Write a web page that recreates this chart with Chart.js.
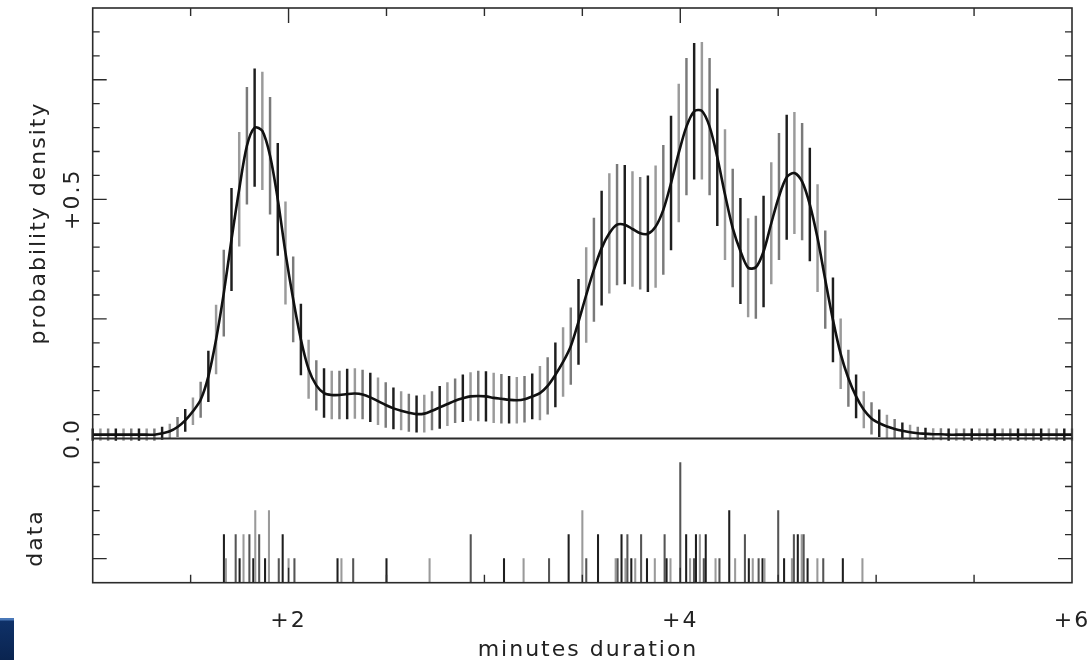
<!DOCTYPE html>
<html>
<head>
<meta charset="utf-8">
<script src="https://cdn.jsdelivr.net/npm/chart.js@4.4.0/dist/chart.umd.min.js"></script>
<style>
html, body { margin: 0; padding: 0; background: #fff; }
#wrap { position: relative; width: 1092px; height: 660px; overflow: hidden; }
canvas { position: absolute; left: 0; top: 0; }
#corner { position: absolute; left: 0; top: 618px; width: 14px; height: 42px;
  background: linear-gradient(#4a78b8 0, #4a78b8 2px, #0f3168 3px, #0a2450 100%); }
</style>
</head>
<body>
<div id="wrap">
  <canvas id="densityChart" width="1092" height="660"></canvas>
  <canvas id="dataChart" width="1092" height="660"></canvas>
  <div id="corner"></div>
</div>
<script>
// density estimate on an even grid from 1 to 6 minutes (128 points)
const xMin = 1, xMax = 6;
const densityValues = [
  0.008, 0.008, 0.008, 0.008, 0.008, 0.008, 0.008, 0.008, 0.008, 0.011,
  0.015, 0.024, 0.038, 0.057, 0.081, 0.130, 0.207, 0.304, 0.416, 0.521,
  0.612, 0.650, 0.643, 0.591, 0.500, 0.388, 0.291, 0.207, 0.145, 0.111,
  0.095, 0.091, 0.091, 0.093, 0.094, 0.092, 0.086, 0.078, 0.070, 0.063,
  0.058, 0.054, 0.051, 0.052, 0.058, 0.065, 0.072, 0.079, 0.084, 0.088,
  0.089, 0.088, 0.085, 0.083, 0.081, 0.080, 0.082, 0.088, 0.095, 0.110,
  0.133, 0.160, 0.193, 0.244, 0.300, 0.353, 0.398, 0.429, 0.447, 0.447,
  0.438, 0.429, 0.428, 0.443, 0.478, 0.534, 0.597, 0.652, 0.684, 0.685,
  0.652, 0.588, 0.510, 0.440, 0.392, 0.357, 0.358, 0.391, 0.450, 0.506,
  0.546, 0.555, 0.537, 0.489, 0.419, 0.332, 0.248, 0.177, 0.126, 0.088,
  0.060, 0.042, 0.032, 0.025, 0.020, 0.016, 0.013, 0.011, 0.010, 0.009,
  0.009, 0.008, 0.008, 0.008, 0.008, 0.008, 0.008, 0.008, 0.008, 0.008,
  0.008, 0.008, 0.008, 0.008, 0.008, 0.008, 0.008, 0.008
];
// half length of each error bar
const errorHalfWidths = [
  0.012, 0.012, 0.012, 0.012, 0.012, 0.012, 0.012, 0.012, 0.012, 0.013,
  0.015, 0.020, 0.023, 0.028, 0.037, 0.053, 0.072, 0.090, 0.107, 0.119,
  0.122, 0.123, 0.123, 0.122, 0.117, 0.107, 0.089, 0.074, 0.061, 0.052,
  0.051, 0.050, 0.050, 0.052, 0.052, 0.051, 0.051, 0.049, 0.047, 0.043,
  0.040, 0.039, 0.038, 0.039, 0.040, 0.044, 0.045, 0.046, 0.049, 0.050,
  0.052, 0.052, 0.052, 0.051, 0.049, 0.048, 0.048, 0.047, 0.056, 0.059,
  0.067, 0.072, 0.080, 0.089, 0.099, 0.108, 0.119, 0.125, 0.126, 0.124,
  0.120, 0.117, 0.121, 0.127, 0.135, 0.140, 0.144, 0.143, 0.142, 0.143,
  0.143, 0.143, 0.136, 0.123, 0.110, 0.103, 0.107, 0.116, 0.127, 0.132,
  0.130, 0.127, 0.122, 0.118, 0.112, 0.102, 0.088, 0.073, 0.059, 0.045,
  0.038, 0.033, 0.028, 0.024, 0.020, 0.017, 0.015, 0.013, 0.012, 0.012,
  0.012, 0.012, 0.012, 0.012, 0.012, 0.012, 0.012, 0.012, 0.012, 0.012,
  0.012, 0.012, 0.012, 0.012, 0.012, 0.012, 0.012, 0.012
];
const gridX = densityValues.map((_, i) => xMin + i * (xMax - xMin) / (densityValues.length - 1));

// eruption durations (minutes) and how many times each occurs
const rugValues = [1.67, 1.68, 1.73, 1.75, 1.77, 1.80, 1.82, 1.83, 1.85, 1.88,
  1.90, 1.95, 1.97, 2.00, 2.03, 2.25, 2.27, 2.33, 2.50, 2.72,
  2.93, 3.10, 3.20, 3.33, 3.43, 3.50, 3.52, 3.58, 3.67, 3.68,
  3.70, 3.72, 3.73, 3.75, 3.77, 3.80, 3.83, 3.87, 3.92, 3.93,
  3.95, 4.00, 4.03, 4.05, 4.07, 4.08, 4.10, 4.12, 4.13, 4.18,
  4.20, 4.25, 4.28, 4.33, 4.35, 4.37, 4.40, 4.42, 4.43, 4.50,
  4.53, 4.57, 4.58, 4.60, 4.62, 4.63, 4.65, 4.70, 4.73, 4.83, 4.93];
const rugCounts = [2, 1, 2, 1, 2, 2, 1, 3, 2, 1,
  3, 1, 2, 1, 1, 1, 1, 1, 1, 1,
  2, 1, 1, 1, 2, 3, 1, 2, 1, 1,
  2, 1, 2, 1, 1, 2, 1, 1, 2, 1,
  1, 5, 2, 1, 1, 2, 2, 1, 2, 1,
  1, 3, 1, 2, 1, 1, 1, 1, 1, 3,
  1, 1, 2, 2, 2, 2, 1, 1, 1, 1, 1];

// tick labels
const xLabelValues = [2, 4, 6];
const xLabels = ['+2', '+4', '+6'];
const yLabelValues = [0, 0.5];
const yLabels = ['0.0', '+0.5'];

const barShades = ['#1e1e1e', '#9a9a9a', '#7a7a7a'];
const rugShades = ['#1e1e1e', '#9a9a9a', '#555555'];

function tickList(from, to, step, majorEvery) {
  const out = [];
  for (let v = from; v <= to + 1e-9; v += step) {
    const r = Math.round(v * 1000) / 1000;
    out.push({ value: r, major: majorEvery.some(m => Math.abs(r - m) < 1e-6) });
  }
  return out;
}

// frame, inward ticks and labels of one panel
const panelFrame = {
  id: 'panelFrame',
  afterDraw(chart, args, opts) {
    const { ctx, chartArea: a, scales } = chart;
    const x = scales.x, y = scales.y;
    ctx.save();
    ctx.strokeStyle = '#2b2b2b';
    ctx.lineWidth = 1.6;
    ctx.strokeRect(a.left, a.top, a.right - a.left, a.bottom - a.top);

    ctx.lineWidth = 1.4;
    ctx.beginPath();
    opts.yTicks.forEach(t => {
      const py = y.getPixelForValue(t.value);
      const len = t.major ? 14 : 7;
      ctx.moveTo(a.left, py); ctx.lineTo(a.left + len, py);
      ctx.moveTo(a.right, py); ctx.lineTo(a.right - len, py);
    });
    const edge = opts.xSide === 'top' ? a.top : a.bottom;
    const dir = opts.xSide === 'top' ? 1 : -1;
    opts.xTicks.forEach(t => {
      const px = x.getPixelForValue(t.value);
      const len = t.major ? 15 : 8;
      ctx.moveTo(px, edge); ctx.lineTo(px, edge + dir * len);
    });
    ctx.stroke();

    ctx.fillStyle = '#222';
    ctx.font = '22px "DejaVu Sans"';
    ctx.letterSpacing = '2px';
    ctx.textAlign = 'center';
    ctx.textBaseline = 'alphabetic';

    (opts.yLabels || []).forEach(l => {
      ctx.save();
      ctx.translate(79, y.getPixelForValue(l.value));
      ctx.rotate(-Math.PI / 2);
      ctx.fillText(l.text, 0, 0);
      ctx.restore();
    });
    (opts.xLabels || []).forEach(l => {
      ctx.fillText(l.text, x.getPixelForValue(l.value), 627);
    });
    (opts.titles || []).forEach(t => {
      ctx.save();
      ctx.translate(t.x, t.y);
      if (t.rotate) ctx.rotate(-Math.PI / 2);
      ctx.fillText(t.text, 0, 0);
      ctx.restore();
    });
    ctx.restore();
  }
};

const curvePoints = gridX.map((v, i) => ({ x: v, y: densityValues[i] }));
const errorBars = gridX.map((v, i) => ({
  x: v,
  y: [densityValues[i] - errorHalfWidths[i], densityValues[i] + errorHalfWidths[i]]
}));

// upper panel: density with error bars
new Chart(document.getElementById('densityChart'), {
  type: 'bar',
  data: {
    datasets: [
      {
        type: 'line',
        data: curvePoints,
        borderColor: '#111',
        borderWidth: 2.6,
        pointRadius: 0,
        tension: 0.3,
        order: 0
      },
      {
        type: 'bar',
        data: errorBars,
        backgroundColor: c => barShades[c.dataIndex % 3],
        barThickness: 1.8,
        borderWidth: 0,
        order: 1,
        clip: 4
      }
    ]
  },
  options: {
    responsive: false,
    animation: false,
    events: [],
    layout: { padding: { left: 92.7, right: 20, top: 8, bottom: 221.5 } },
    scales: {
      x: { type: 'linear', min: xMin, max: xMax, offset: false, display: false },
      y: { type: 'linear', min: 0, max: 0.9, display: false }
    },
    plugins: {
      legend: { display: false },
      tooltip: { enabled: false },
      panelFrame: {
        yTicks: tickList(0.05, 0.85, 0.05, [0.25, 0.5, 0.75]),
        xTicks: tickList(1.5, 5.5, 0.5, [2, 4]),
        xSide: 'top',
        yLabels: yLabelValues.map((v, i) => ({ value: v, text: yLabels[i] })),
        titles: [{ text: 'probability density', x: 45, y: 223, rotate: true }]
      }
    }
  },
  plugins: [panelFrame]
});

// lower panel: the observations
new Chart(document.getElementById('dataChart'), {
  type: 'bar',
  data: {
    datasets: [{
      data: rugValues.map((v, i) => ({ x: v, y: rugCounts[i] })),
      backgroundColor: c => rugShades[c.dataIndex % 3],
      barThickness: 1.4,
      borderWidth: 0
    }]
  },
  options: {
    responsive: false,
    animation: false,
    events: [],
    layout: { padding: { left: 92.7, right: 20, top: 438.5, bottom: 77.3 } },
    scales: {
      x: { type: 'linear', min: xMin, max: xMax, offset: false, display: false },
      y: { type: 'linear', min: 0, max: 6, display: false }
    },
    plugins: {
      legend: { display: false },
      tooltip: { enabled: false },
      panelFrame: {
        yTicks: tickList(1, 5, 1, [1]),
        xTicks: tickList(1.5, 5.5, 0.5, [2, 4]),
        xSide: 'bottom',
        xLabels: xLabelValues.map((v, i) => ({ value: v, text: xLabels[i] })),
        titles: [
          { text: 'data', x: 42, y: 538, rotate: true },
          { text: 'minutes duration', x: 588, y: 656, rotate: false }
        ]
      }
    }
  },
  plugins: [panelFrame]
});
</script>
</body>
</html>
